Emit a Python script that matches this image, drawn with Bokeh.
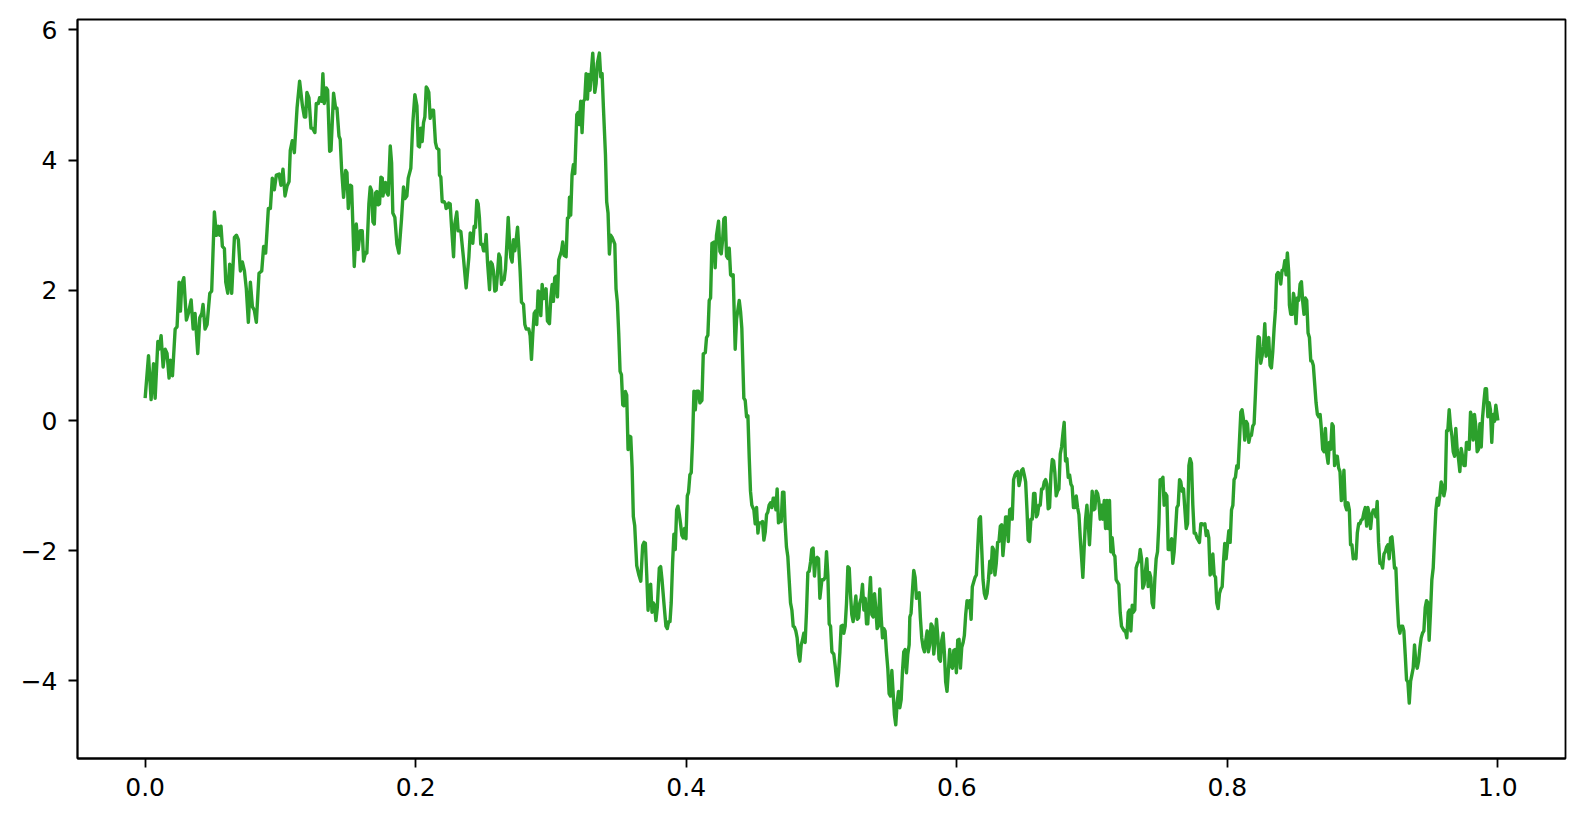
from bokeh.plotting import figure
from bokeh.models import FixedTicker, CustomJSTickFormatter, Range1d
from bokeh.embed import file_html
from bokeh.resources import INLINE

# ---- traced random-walk values, in segments (x in [0, 1]) ----
x_a = [0.0000, 0.0025, 0.0044, 0.0062, 0.0074, 0.0094, 0.0103, 0.0118, 0.0133, 0.0148,
       0.0162, 0.0177, 0.0187, 0.0202, 0.0222, 0.0236, 0.0251, 0.0261, 0.0271, 0.0286,
       0.0305, 0.0320, 0.0340, 0.0355, 0.0369, 0.0389, 0.0404, 0.0419, 0.0428, 0.0443,
       0.0458, 0.0478, 0.0492, 0.0512, 0.0527, 0.0542, 0.0551, 0.0561, 0.0571, 0.0586,
       0.0596, 0.0611, 0.0625, 0.0640, 0.0660, 0.0675, 0.0689, 0.0704, 0.0719, 0.0734,
       0.0748, 0.0763, 0.0778, 0.0793, 0.0807, 0.0822, 0.0842, 0.0862, 0.0876, 0.0891,
       0.0911, 0.0926, 0.0940, 0.0955, 0.0970, 0.0990, 0.1004, 0.1019, 0.1034, 0.1049,
       0.1064, 0.1073, 0.1088, 0.1103, 0.1123, 0.1142, 0.1162, 0.1177, 0.1187, 0.1196,
       0.1211, 0.1226]
y_a = [0.343, 0.995, 0.322, 0.871, 0.343, 1.214, 1.097, 1.303, 0.823, 1.097,
       1.029, 0.652, 0.926, 0.686, 1.406, 1.440, 2.126, 1.680, 2.092, 2.195,
       1.543, 1.646, 1.852, 1.406, 1.646, 1.029, 1.578, 1.646, 1.783, 1.406,
       1.475, 1.955, 1.989, 3.203, 2.846, 2.984, 2.846, 2.984, 2.675, 2.641,
       2.126, 1.955, 2.401, 1.955, 2.812, 2.846, 2.778, 2.298, 2.435, 2.298,
       2.023, 1.509, 2.126, 1.749, 1.694, 1.509, 2.263, 2.298, 2.675, 2.572,
       3.258, 3.258, 3.724, 3.546, 3.772, 3.786, 3.615, 3.861, 3.450, 3.601,
       3.670, 4.150, 4.300, 4.115, 4.801, 5.213, 4.849, 4.664, 4.664, 5.041,
       4.959, 4.492]

x_b = [0.1236, 0.1246, 0.1255, 0.1265, 0.1280, 0.1290, 0.1305, 0.1314, 0.1324, 0.1339,
       0.1349, 0.1364, 0.1374, 0.1393, 0.1408, 0.1418, 0.1433, 0.1442, 0.1452, 0.1467,
       0.1482, 0.1492, 0.1502, 0.1516, 0.1526, 0.1546, 0.1561, 0.1575, 0.1590, 0.1605,
       0.1615, 0.1630, 0.1639, 0.1654, 0.1664, 0.1674, 0.1684, 0.1694, 0.1703, 0.1713,
       0.1723, 0.1733, 0.1743, 0.1753, 0.1758, 0.1768, 0.1777, 0.1787, 0.1797, 0.1812,
       0.1822, 0.1831, 0.1846, 0.1861, 0.1876, 0.1895, 0.1910, 0.1920, 0.1935, 0.1945,
       0.1964, 0.1979, 0.1994, 0.2009, 0.2019, 0.2028, 0.2038, 0.2048, 0.2058, 0.2068,
       0.2078, 0.2087, 0.2097, 0.2107, 0.2122, 0.2132, 0.2146, 0.2156, 0.2171, 0.2176,
       0.2186, 0.2196, 0.2211, 0.2220, 0.2225, 0.2235, 0.2245, 0.2255, 0.2265, 0.2280,
       0.2289, 0.2304, 0.2314, 0.2324, 0.2334, 0.2353, 0.2373, 0.2393, 0.2403, 0.2412,
       0.2422, 0.2432, 0.2442, 0.2452, 0.2462, 0.2471, 0.2481]
y_b = [4.492, 4.458, 4.424, 4.870, 4.870, 4.959, 4.904, 5.329, 4.870, 5.110,
       5.075, 4.136, 4.150, 5.027, 4.801, 4.801, 4.369, 4.321, 3.875, 3.429,
       3.841, 3.807, 3.258, 3.615, 3.601, 2.366, 3.018, 2.627, 2.915, 2.915,
       2.449, 2.586, 2.572, 3.327, 3.587, 3.532, 3.052, 3.018, 3.498, 3.519,
       3.313, 3.327, 3.738, 3.724, 3.450, 3.615, 3.656, 3.498, 3.464, 4.218,
       3.957, 3.189, 3.121, 2.709, 2.572, 3.087, 3.587, 3.409, 3.450, 3.724,
       3.875, 4.575, 5.007, 4.835, 4.218, 4.204, 4.492, 4.286, 4.575, 4.664,
       5.123, 5.096, 5.041, 4.643, 4.767, 4.767, 4.273, 4.184, 4.163, 3.772,
       3.738, 3.361, 3.361, 3.327, 3.258, 3.272, 3.340, 3.327, 2.984, 2.517,
       3.018, 3.203, 2.915, 2.915, 2.901, 2.503, 2.037, 2.503, 2.881, 2.860,
       2.723, 2.984, 2.970, 3.381, 3.327, 3.121, 2.709]

x_c = [0.2492, 0.2502, 0.2511, 0.2521, 0.2531, 0.2546, 0.2556, 0.2566, 0.2575, 0.2585,
       0.2595, 0.2605, 0.2615, 0.2625, 0.2634, 0.2644, 0.2654, 0.2664, 0.2674, 0.2684,
       0.2694, 0.2703, 0.2713, 0.2723, 0.2733, 0.2743, 0.2753, 0.2762, 0.2772, 0.2782,
       0.2797, 0.2807, 0.2817, 0.2836, 0.2846, 0.2856, 0.2866, 0.2876, 0.2886, 0.2895,
       0.2905, 0.2915, 0.2925, 0.2935, 0.2945, 0.2955, 0.2964, 0.2974, 0.2989, 0.2999,
       0.3009, 0.3018, 0.3028, 0.3038, 0.3048, 0.3058, 0.3068, 0.3078, 0.3087, 0.3097,
       0.3112, 0.3122, 0.3132, 0.3137, 0.3146, 0.3156, 0.3166, 0.3176, 0.3191, 0.3201,
       0.3210, 0.3220, 0.3230, 0.3240, 0.3250, 0.3260, 0.3270, 0.3279, 0.3289, 0.3299,
       0.3309, 0.3324, 0.3334, 0.3343, 0.3358, 0.3368, 0.3378, 0.3388, 0.3403, 0.3412,
       0.3422, 0.3432, 0.3442, 0.3452, 0.3462, 0.3472, 0.3481, 0.3491, 0.3501, 0.3511,
       0.3521, 0.3531, 0.3540, 0.3550, 0.3560, 0.3570, 0.3580, 0.3590, 0.3600, 0.3609,
       0.3619, 0.3634, 0.3649, 0.3664, 0.3678, 0.3688, 0.3698, 0.3708, 0.3718, 0.3728,
       0.3737]
y_c = [2.709, 2.606, 2.606, 2.860, 2.435, 2.010, 2.435, 2.401, 2.298, 1.989,
       2.003, 2.263, 2.558, 2.503, 2.092, 2.174, 2.160, 2.332, 2.709, 3.121,
       2.743, 2.503, 2.435, 2.778, 2.606, 2.778, 2.970, 2.675, 2.298, 1.818,
       1.783, 1.475, 1.406, 1.406, 1.303, 0.940, 1.338, 1.646, 1.680, 1.475,
       1.989, 1.968, 1.612, 2.092, 1.872, 1.886, 2.023, 1.530, 1.488, 1.886,
       2.092, 1.831, 2.195, 2.215, 1.900, 2.469, 2.538, 2.606, 2.743, 2.538,
       2.517, 3.107, 3.121, 3.429, 3.155, 3.772, 3.930, 3.793, 4.698, 4.733,
       4.547, 4.904, 4.424, 4.904, 4.938, 5.329, 4.938, 5.316, 5.075, 5.384,
       5.645, 5.041, 5.178, 5.487, 5.645, 5.281, 5.329, 4.801, 4.081, 3.361,
       3.189, 2.558, 2.846, 2.812, 2.764, 2.709, 2.023, 1.818, 1.338, 0.754,
       0.706, 0.240, 0.226, 0.446, 0.391, -0.446, -0.240, -0.254, -0.720, -1.475,
       -1.612, -2.229, -2.366, -2.469, -1.920, -1.872, -1.886, -2.366, -2.915, -2.538,
       -2.517]

x_d = [0.3747, 0.3757, 0.3766, 0.3776, 0.3786, 0.3801, 0.3811, 0.3821, 0.3835, 0.3850,
       0.3860, 0.3870, 0.3880, 0.3889, 0.3899, 0.3909, 0.3919, 0.3929, 0.3939, 0.3949,
       0.3958, 0.3968, 0.3978, 0.3988, 0.3998, 0.4008, 0.4017, 0.4027, 0.4037, 0.4047,
       0.4057, 0.4067, 0.4077, 0.4091, 0.4101, 0.4116, 0.4126, 0.4141, 0.4150, 0.4160,
       0.4170, 0.4180, 0.4190, 0.4205, 0.4214, 0.4224, 0.4239, 0.4249, 0.4259, 0.4269,
       0.4278, 0.4288, 0.4298, 0.4308, 0.4318, 0.4328, 0.4338, 0.4347, 0.4362, 0.4372,
       0.4382, 0.4392, 0.4402, 0.4411, 0.4426, 0.4436, 0.4446, 0.4456, 0.4466, 0.4475,
       0.4485, 0.4500, 0.4510, 0.4520, 0.4530, 0.4539, 0.4554, 0.4564, 0.4574, 0.4584,
       0.4594, 0.4603, 0.4613, 0.4623, 0.4633, 0.4643, 0.4653, 0.4663, 0.4672, 0.4682,
       0.4692, 0.4702, 0.4712, 0.4722, 0.4731, 0.4741, 0.4751, 0.4761, 0.4771, 0.4781,
       0.4791, 0.4800, 0.4810, 0.4820, 0.4830, 0.4840, 0.4850, 0.4859, 0.4869, 0.4879,
       0.4889, 0.4899, 0.4909, 0.4919, 0.4928, 0.4938, 0.4948, 0.4958, 0.4968, 0.4978,
       0.4988]
y_d = [-2.946, -2.803, -2.839, -3.075, -2.875, -2.267, -2.245, -2.446, -2.803, -3.161,
       -3.197, -3.090, -3.090, -2.803, -2.195, -1.745, -1.981, -1.373, -1.316, -1.444,
       -1.587, -1.766, -1.802, -1.659, -1.816, -1.158, -1.101, -0.836, -0.800, -0.300,
       0.451, 0.165, 0.451, 0.451, 0.272, 0.308, 1.024, 1.045, 1.274, 1.310,
       1.846, 1.882, 2.719, 2.740, 2.347, 2.848, 3.062, 2.597, 2.561, 2.776,
       3.098, 3.120, 2.526, 2.490, 2.647, 2.240, 2.218, 2.240, 1.095, 1.560,
       1.703, 1.846, 1.667, 1.417, 0.344, 0.308, 0.057, 0.072, -0.586, -1.086,
       -1.301, -1.373, -1.587, -1.337, -1.730, -1.573, -1.573, -1.552, -1.838, -1.716,
       -1.444, -1.409, -1.301, -1.265, -1.337, -1.194, -1.194, -1.373, -1.051, -1.573,
       -1.480, -1.552, -1.101, -1.101, -1.587, -1.945, -2.088, -2.446, -2.803, -2.911,
       -3.161, -3.175, -3.233, -3.340, -3.590, -3.698, -3.447, -3.376, -3.268, -3.411,
       -2.946, -2.338, -2.317, -2.174, -1.981, -1.959, -2.389, -2.124, -2.102, -2.124,
       -2.732]

x_e = [0.5003, 0.5017, 0.5027, 0.5037, 0.5047, 0.5057, 0.5067, 0.5077, 0.5091, 0.5101,
       0.5116, 0.5126, 0.5136, 0.5145, 0.5155, 0.5165, 0.5175, 0.5185, 0.5195, 0.5205,
       0.5214, 0.5224, 0.5234, 0.5244, 0.5254, 0.5264, 0.5274, 0.5283, 0.5293, 0.5303,
       0.5313, 0.5323, 0.5333, 0.5342, 0.5352, 0.5362, 0.5372, 0.5382, 0.5392, 0.5401,
       0.5411, 0.5421, 0.5431, 0.5441, 0.5451, 0.5461, 0.5470, 0.5480, 0.5490, 0.5500,
       0.5510, 0.5520, 0.5530, 0.5539, 0.5549, 0.5559, 0.5569, 0.5579, 0.5589, 0.5598,
       0.5608, 0.5618, 0.5628, 0.5638, 0.5648, 0.5653, 0.5662, 0.5672, 0.5682, 0.5692,
       0.5702, 0.5712, 0.5722, 0.5731, 0.5741, 0.5751, 0.5761, 0.5771, 0.5781, 0.5790,
       0.5800, 0.5810, 0.5820, 0.5830, 0.5840, 0.5850, 0.5859, 0.5869, 0.5879, 0.5889,
       0.5899, 0.5909, 0.5918, 0.5928, 0.5938, 0.5948, 0.5958, 0.5968, 0.5978, 0.5987,
       0.5997, 0.6007, 0.6017, 0.6027, 0.6037, 0.6047, 0.6056, 0.6066, 0.6076, 0.6086,
       0.6096, 0.6106, 0.6115, 0.6125, 0.6135, 0.6145, 0.6155, 0.6165, 0.6175, 0.6184,
       0.6194, 0.6204, 0.6214, 0.6224, 0.6234, 0.6244]
y_e = [-2.446, -2.446, -2.410, -2.016, -2.374, -3.125, -3.161, -3.554, -3.590, -3.769,
       -4.077, -3.876, -3.554, -3.161, -3.147, -3.268, -3.161, -2.803, -2.245, -2.267,
       -2.660, -2.982, -3.090, -2.889, -2.696, -3.054, -3.032, -2.803, -2.732, -2.517,
       -2.911, -2.732, -3.125, -3.125, -2.732, -2.410, -2.982, -3.018, -2.660, -2.875,
       -3.197, -3.161, -2.589, -3.018, -3.340, -3.197, -3.233, -3.554, -3.805, -4.198,
       -4.234, -3.841, -4.198, -4.520, -4.677, -4.341, -4.162, -4.413, -4.291, -3.876,
       -3.554, -3.519, -3.876, -3.590, -3.447, -3.018, -2.961, -2.625, -2.303, -2.410,
       -2.732, -2.675, -2.646, -3.032, -3.340, -3.483, -3.554, -3.376, -3.233, -3.554,
       -3.447, -3.125, -3.161, -3.590, -3.376, -3.054, -3.304, -3.662, -3.698, -3.376,
       -3.268, -3.590, -4.019, -4.162, -3.841, -3.519, -3.769, -3.805, -3.533, -3.519,
       -3.876, -3.376, -3.361, -3.805, -3.483, -3.411, -3.304, -2.982, -2.768, -2.875,
       -2.768, -3.054, -2.553, -2.482, -2.410, -2.374, -1.945, -1.516, -1.480, -1.945,
       -2.446, -2.660, -2.732, -2.660, -2.446, -2.160]

x_f = [0.6253, 0.6263, 0.6272, 0.6282, 0.6292, 0.6302, 0.6312, 0.6322, 0.6332, 0.6341,
       0.6351, 0.6361, 0.6371, 0.6381, 0.6391, 0.6400, 0.6410, 0.6420, 0.6430, 0.6440,
       0.6450, 0.6460, 0.6469, 0.6479, 0.6489, 0.6499, 0.6509, 0.6519, 0.6528, 0.6538,
       0.6548, 0.6558, 0.6568, 0.6578, 0.6588, 0.6597, 0.6607, 0.6617, 0.6627, 0.6637,
       0.6647, 0.6657, 0.6666, 0.6676, 0.6686, 0.6696, 0.6706, 0.6716, 0.6725, 0.6735,
       0.6745, 0.6755, 0.6765, 0.6775, 0.6785, 0.6794, 0.6804, 0.6814, 0.6824, 0.6834,
       0.6844, 0.6853, 0.6863, 0.6873, 0.6883, 0.6893, 0.6903, 0.6913, 0.6922, 0.6932,
       0.6942, 0.6952, 0.6962, 0.6972, 0.6981, 0.6991, 0.7001, 0.7011, 0.7021, 0.7031,
       0.7041, 0.7050, 0.7060, 0.7070, 0.7080, 0.7090, 0.7100, 0.7110, 0.7119, 0.7129,
       0.7139, 0.7149, 0.7159, 0.7169, 0.7178, 0.7188, 0.7198, 0.7208, 0.7218, 0.7228,
       0.7238, 0.7247, 0.7257, 0.7267, 0.7277, 0.7287, 0.7297, 0.7306, 0.7316, 0.7326,
       0.7336, 0.7346, 0.7356, 0.7366, 0.7375, 0.7385, 0.7395, 0.7405, 0.7415, 0.7425,
       0.7434, 0.7444, 0.7454, 0.7464, 0.7474, 0.7484, 0.7494, 0.7503]
y_f = [-2.338, -1.945, -1.981, -2.374, -2.195, -1.873, -1.859, -1.623, -1.602, -2.074,
       -1.838, -1.480, -1.480, -1.859, -1.373, -1.358, -1.516, -0.908, -0.836, -0.800,
       -0.786, -1.001, -0.908, -0.765, -0.743, -0.836, -0.943, -1.373, -1.838, -1.859,
       -1.516, -1.516, -1.122, -1.122, -1.480, -1.444, -1.301, -1.301, -1.051, -1.051,
       -0.943, -0.908, -0.979, -1.358, -1.337, -0.836, -0.600, -0.622, -0.800, -1.158,
       -1.086, -1.051, -0.514, -0.407, -0.193, -0.028, -0.622, -0.586, -0.872, -0.836,
       -0.979, -1.015, -1.337, -1.337, -1.158, -1.337, -1.444, -1.802, -2.088, -2.410,
       -1.945, -1.516, -1.301, -1.587, -1.909, -1.516, -1.086, -1.373, -1.358, -1.086,
       -1.122, -1.230, -1.516, -1.301, -1.516, -1.230, -1.659, -1.230, -1.659, -1.230,
       -2.016, -1.802, -2.052, -2.088, -2.446, -2.482, -2.517, -2.946, -3.161, -3.197,
       -3.233, -3.233, -3.340, -2.946, -2.911, -3.233, -2.839, -2.946, -2.911, -2.267,
       -2.195, -2.160, -1.981, -2.124, -2.575, -2.517, -2.303, -2.124, -2.553, -2.338,
       -2.410, -2.803, -2.875, -2.446, -2.124, -2.016, -1.587, -0.908]

x_g = [0.7514, 0.7524, 0.7533, 0.7543, 0.7553, 0.7563, 0.7578, 0.7588, 0.7597, 0.7607,
       0.7617, 0.7627, 0.7637, 0.7647, 0.7656, 0.7666, 0.7676, 0.7686, 0.7696, 0.7706,
       0.7716, 0.7725, 0.7735, 0.7745, 0.7755, 0.7765, 0.7775, 0.7785, 0.7794, 0.7804,
       0.7814, 0.7824, 0.7834, 0.7844, 0.7853, 0.7863, 0.7873, 0.7883, 0.7893, 0.7903,
       0.7913, 0.7922, 0.7932, 0.7942, 0.7952, 0.7962, 0.7972, 0.7981, 0.7991, 0.8001,
       0.8011, 0.8021, 0.8031, 0.8041, 0.8050, 0.8060, 0.8070, 0.8080, 0.8090, 0.8100,
       0.8109, 0.8119, 0.8129, 0.8139, 0.8149, 0.8159, 0.8169, 0.8178, 0.8188, 0.8198,
       0.8208, 0.8218, 0.8228, 0.8237, 0.8247, 0.8257, 0.8267, 0.8277, 0.8287, 0.8297,
       0.8306, 0.8316, 0.8326, 0.8336, 0.8346, 0.8356, 0.8365, 0.8375, 0.8385, 0.8395,
       0.8405, 0.8415, 0.8425, 0.8434, 0.8444, 0.8454, 0.8459, 0.8469, 0.8479, 0.8489,
       0.8498, 0.8508, 0.8518, 0.8528, 0.8538, 0.8548, 0.8558, 0.8567, 0.8577, 0.8587,
       0.8597, 0.8607, 0.8617, 0.8626, 0.8636, 0.8646, 0.8656, 0.8666, 0.8676, 0.8686,
       0.8695, 0.8705, 0.8715, 0.8725, 0.8735, 0.8745, 0.8754]
y_g = [-0.908, -0.872, -1.301, -1.122, -1.158, -1.981, -1.981, -1.816, -2.195, -2.016,
       -1.695, -1.337, -1.301, -0.908, -0.943, -1.086, -1.051, -1.358, -1.659, -1.587,
       -0.693, -0.586, -0.658, -1.301, -1.730, -1.730, -1.802, -1.838, -1.873, -1.587,
       -1.587, -1.602, -1.587, -1.766, -1.695, -1.802, -2.374, -2.338, -2.052, -2.374,
       -2.410, -2.803, -2.889, -2.660, -2.589, -2.553, -2.160, -1.888, -2.124, -1.909,
       -1.695, -1.873, -1.373, -1.301, -0.908, -0.872, -0.693, -0.729, -0.300, 0.129,
       0.165, 0.022, -0.300, -0.014, -0.050, -0.336, -0.229, -0.229, -0.086, -0.050,
       0.415, 0.916, 1.288, 1.274, 0.880, 0.988, 1.131, 1.488, 0.988, 1.203,
       1.274, 0.845, 0.809, 1.059, 1.417, 1.703, 2.240, 2.275, 2.240, 2.097,
       2.311, 2.311, 2.454, 2.240, 2.576, 2.275, 1.775, 1.632, 1.632, 1.954,
       1.846, 1.488, 1.882, 1.846, 2.097, 2.132, 1.810, 1.632, 1.882, 1.846,
       1.345, 1.274, 0.916, 0.916, 0.845, 0.559, 0.272, 0.093, 0.057, 0.093,
       -0.122, -0.443, -0.479, -0.122, -0.514, -0.658, -0.336]

x_h = [0.8764, 0.8774, 0.8783, 0.8793, 0.8803, 0.8813, 0.8823, 0.8833, 0.8843, 0.8852,
       0.8862, 0.8872, 0.8882, 0.8892, 0.8902, 0.8911, 0.8921, 0.8931, 0.8941, 0.8951,
       0.8961, 0.8971, 0.8980, 0.8990, 0.9000, 0.9010, 0.9020, 0.9030, 0.9039, 0.9049,
       0.9059, 0.9069, 0.9079, 0.9089, 0.9099, 0.9108, 0.9118, 0.9128, 0.9138, 0.9148,
       0.9158, 0.9168, 0.9177, 0.9187, 0.9197, 0.9207, 0.9217, 0.9227, 0.9236, 0.9246,
       0.9256, 0.9266, 0.9276, 0.9286, 0.9296, 0.9305, 0.9315, 0.9325, 0.9335, 0.9345,
       0.9355, 0.9364, 0.9374, 0.9384, 0.9394, 0.9404, 0.9414, 0.9424, 0.9433, 0.9443,
       0.9453, 0.9463, 0.9473, 0.9483, 0.9492, 0.9502, 0.9512, 0.9522, 0.9532, 0.9542,
       0.9552, 0.9561, 0.9571, 0.9581, 0.9591, 0.9601, 0.9611, 0.9621, 0.9630, 0.9640,
       0.9650, 0.9660, 0.9670, 0.9680, 0.9689, 0.9699, 0.9709, 0.9719, 0.9729, 0.9739,
       0.9749, 0.9758, 0.9768, 0.9778, 0.9788, 0.9798, 0.9808, 0.9817, 0.9827, 0.9837,
       0.9847, 0.9857, 0.9867, 0.9877, 0.9886, 0.9896, 0.9906, 0.9916, 0.9926, 0.9936,
       0.9945, 0.9955, 0.9965, 0.9975, 0.9985, 1.0000]
y_h = [-0.443, -0.050, -0.086, -0.693, -0.550, -0.550, -0.729, -0.786, -1.230, -1.158,
       -0.765, -1.301, -1.373, -1.265, -1.373, -1.909, -1.909, -2.124, -2.088, -2.124,
       -1.730, -1.587, -1.587, -1.530, -1.516, -1.409, -1.337, -1.623, -1.337, -1.444,
       -1.659, -1.444, -1.373, -1.373, -1.480, -1.244, -1.873, -2.195, -2.195, -2.267,
       -2.052, -2.016, -1.945, -1.909, -2.124, -1.802, -1.788, -2.016, -2.267, -2.267,
       -2.768, -3.161, -3.268, -3.161, -3.161, -3.233, -3.590, -3.984, -4.019, -4.341,
       -4.005, -3.912, -3.805, -3.447, -3.733, -3.805, -3.698, -3.483, -3.340, -3.268,
       -3.233, -2.875, -2.768, -2.803, -3.376, -2.946, -2.446, -2.267, -1.802, -1.373,
       -1.194, -1.301, -1.158, -0.943, -1.015, -1.158, -1.051, -0.157, -0.157, 0.165,
       -0.086, -0.229, -0.479, -0.550, -0.122, -0.443, -0.586, -0.786, -0.429, -0.550,
       -0.693, -0.693, -0.336, -0.336, -0.443, 0.129, 0.057, -0.300, 0.093, -0.086,
       -0.479, -0.443, -0.050, -0.407, 0.022, 0.272, 0.487, 0.487, 0.057, 0.272,
       0.165, -0.336, 0.093, -0.014, 0.236, 0.000]

x_ticks = [0.0, 0.2, 0.4, 0.6, 0.8, 1.0]
y_ticks = [-4, -2, 0, 2, 4, 6]

xs = x_a + x_b + x_c + x_d + x_e + x_f + x_g + x_h
ys = y_a + y_b + y_c + y_d + y_e + y_f + y_g + y_h
for sx, sy in [(x_a, y_a), (x_b, y_b), (x_c, y_c), (x_d, y_d),
               (x_e, y_e), (x_f, y_f), (x_g, y_g), (x_h, y_h)]:
    assert len(sx) == len(sy), (len(sx), len(sy))

# matplotlib-like 5% margins
xmin, xmax = min(xs), max(xs)
ymin, ymax = min(ys), max(ys)
mx = 0.05 * (xmax - xmin)
my = 0.05 * (ymax - ymin)

FONT = "DejaVu Sans"

p = figure(width=1584, height=822, output_backend="svg", toolbar_location=None,
           x_range=Range1d(xmin - mx, xmax + mx),
           y_range=Range1d(ymin - my, ymax + my),
           min_border_left=77, min_border_right=19,
           min_border_top=19, min_border_bottom=64)

p.line(xs, ys, line_color="#2ca02c", line_width=3.4, line_join="round")

p.grid.visible = False
p.background_fill_color = "white"
p.border_fill_color = "white"
p.outline_line_color = "black"
p.outline_line_width = 1.8
p.outline_line_alpha = 1.0

for ax in (p.xaxis[0], p.yaxis[0]):
    ax.axis_line_color = "black"
    ax.axis_line_width = 1.8
    ax.major_tick_line_color = "black"
    ax.major_tick_line_width = 1.8
    ax.major_tick_out = 9
    ax.major_tick_in = 0
    ax.minor_tick_line_color = None
    ax.major_label_text_font = FONT
    ax.major_label_text_font_size = "25px"
    ax.major_label_text_color = "black"

p.xaxis.ticker = FixedTicker(ticks=x_ticks)
p.xaxis.formatter = CustomJSTickFormatter(code="return tick.toFixed(1);")
p.xaxis.major_label_standoff = 10
p.yaxis.ticker = FixedTicker(ticks=y_ticks)
p.yaxis.formatter = CustomJSTickFormatter(code="return tick.toFixed(0).replace('-', '\u2212');")
p.yaxis.major_label_standoff = 11

open("out.html", "w").write(file_html(p, INLINE))
